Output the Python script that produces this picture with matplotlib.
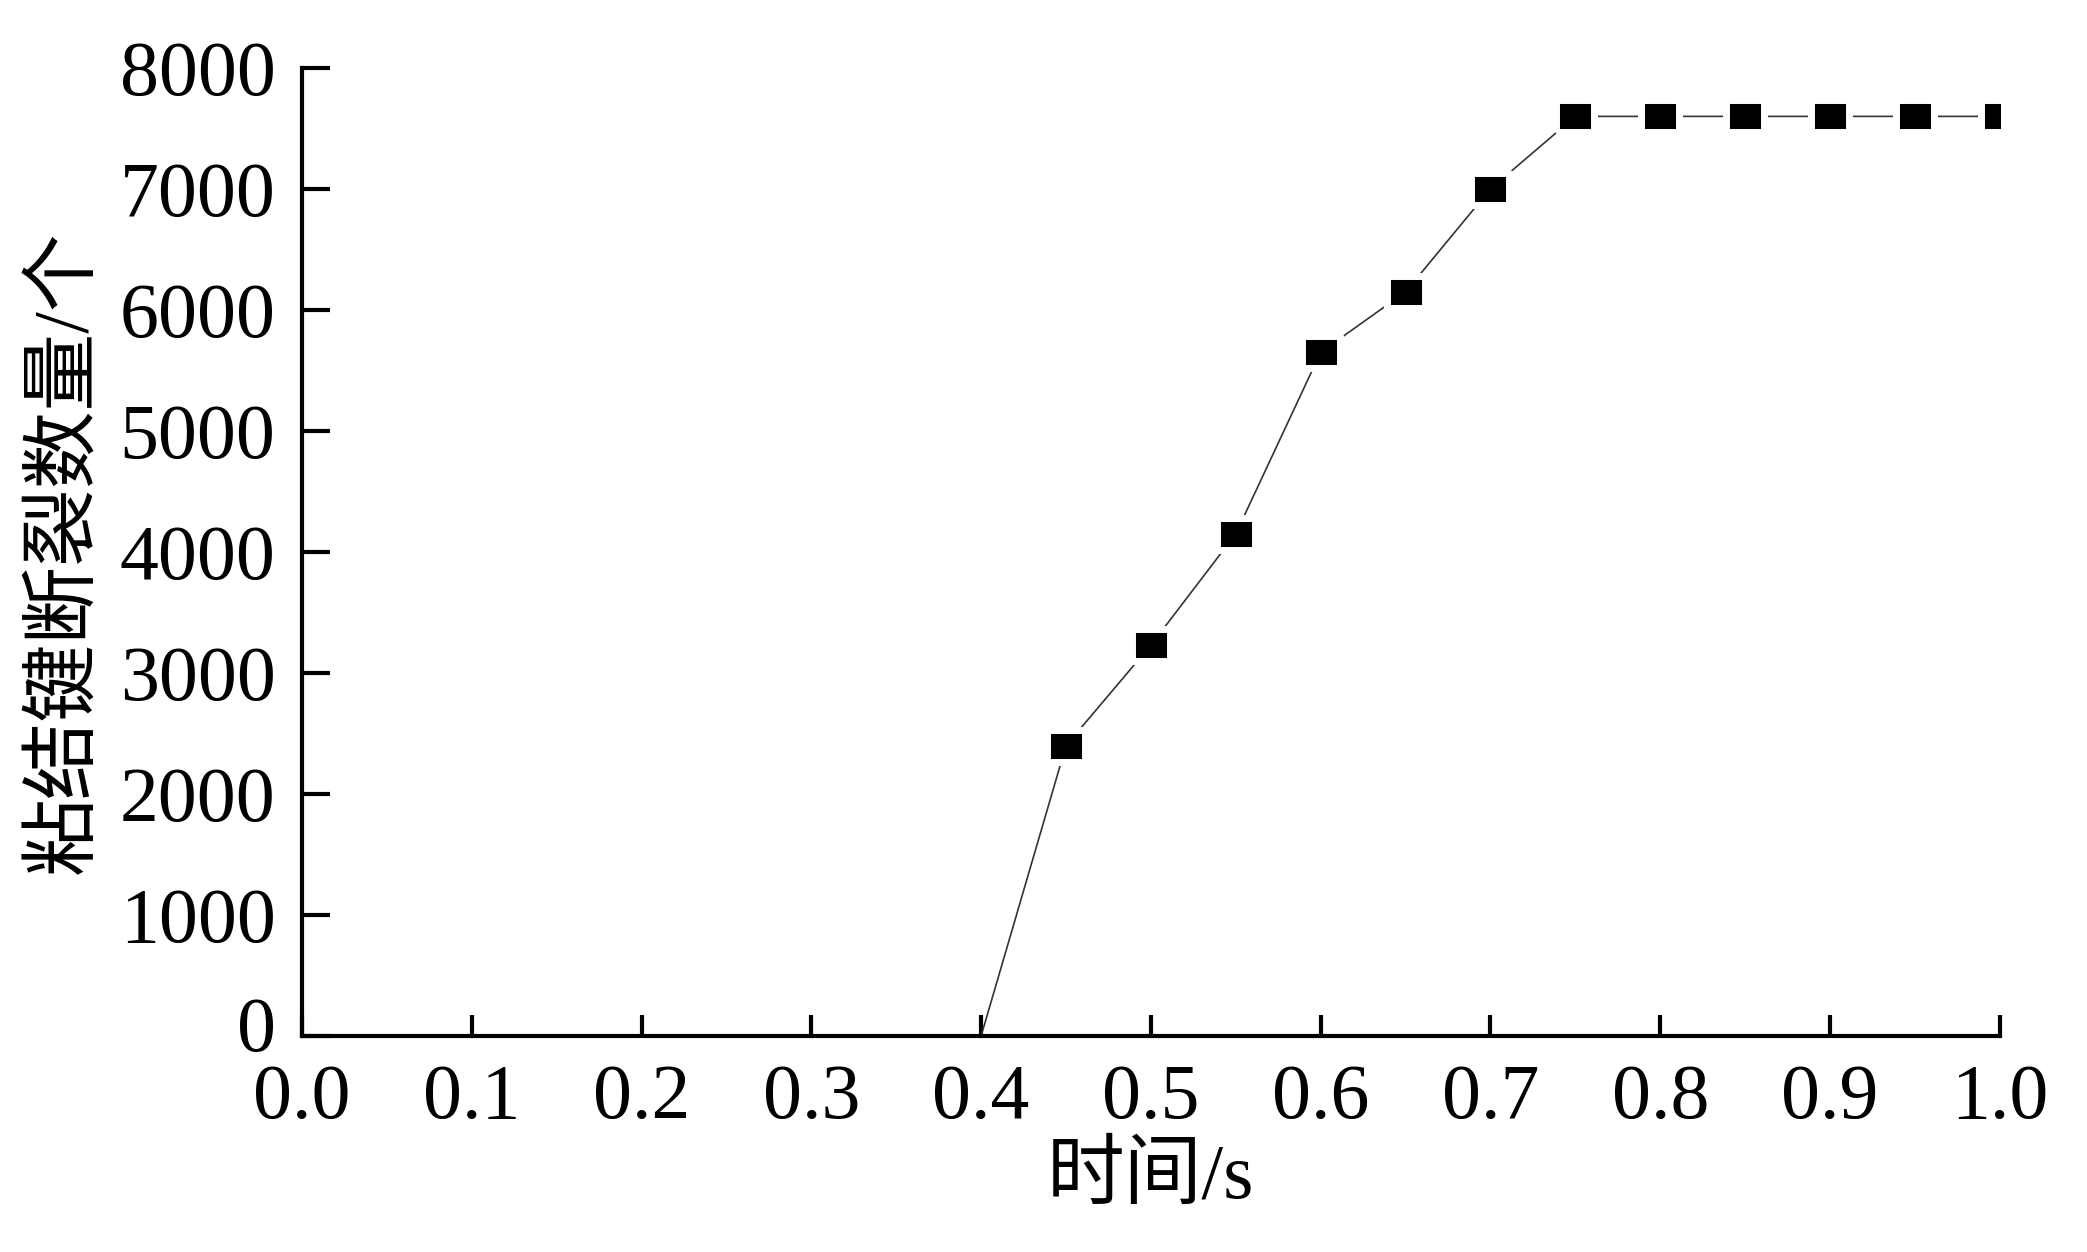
import numpy as np
import matplotlib.pyplot as plt
import matplotlib.transforms as mtransforms
from matplotlib.ticker import MultipleLocator

plt.rcParams['font.family'] = ['Liberation Serif', 'Noto Sans CJK SC']

# 数据: 时间 (s) 与粘结键断裂数量
t = [0.40, 0.45, 0.50, 0.55, 0.60, 0.65, 0.70, 0.75, 0.80, 0.85, 0.90, 0.95, 1.00]
n = [0, 2400, 3230, 4150, 5650, 6150, 7000, 7600, 7600, 7600, 7600, 7600, 7600]

fig = plt.figure(figsize=(20.87, 12.52), dpi=100)
ax = fig.add_axes([0.1447, 0.1725, 0.8135, 0.7732])

# 矩形标记, 略宽于高, 白边留出与连线的空隙
rect = [(-1.25, -1), (1.25, -1), (1.25, 1), (-1.25, 1), (-1.25, -1)]
ax.plot(t, n, color='#333333', lw=1.2, marker=rect, markersize=28,
        markerfacecolor='black', markeredgecolor='white', markeredgewidth=5,
        markevery=list(range(1, len(t))))

ax.set_xlim(0, 1.0)
ax.set_ylim(0, 8000)
ax.xaxis.set_major_locator(MultipleLocator(0.1))
ax.yaxis.set_major_locator(MultipleLocator(1000))
ax.xaxis.set_major_formatter(plt.FormatStrFormatter('%.1f'))

ax.spines.top.set_visible(False)
ax.spines.right.set_visible(False)
for s in ('left', 'bottom'):
    ax.spines[s].set_linewidth(3)

ax.tick_params(axis='x', direction='in', length=15, width=3, labelsize=56, pad=20)
ax.tick_params(axis='y', direction='in', length=20, width=3, labelsize=56, pad=19)

ax.set_xlabel('时间/s', fontsize=56, labelpad=6)
ax.set_ylabel('粘结键断裂数量/个', fontsize=56, labelpad=12)

# y 轴 "0" 稍微上移, 避免和 x 轴 "0.0" 挤在一起
fig.canvas.draw()
for tick in ax.yaxis.get_major_ticks():
    if abs(tick.get_loc()) < 1e-9:
        lab = tick.label1
        lab.set_transform(lab.get_transform() +
                          mtransforms.ScaledTranslation(0, 9 / 72, fig.dpi_scale_trans))

fig.savefig('out.png', dpi=100)
